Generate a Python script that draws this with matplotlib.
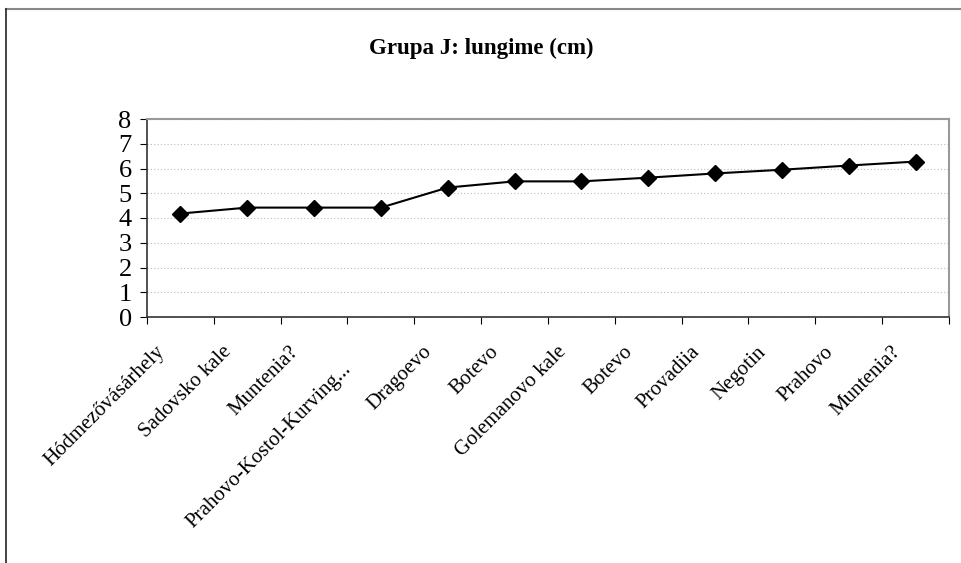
import matplotlib
matplotlib.use('Agg')
import matplotlib.pyplot as plt
from matplotlib.lines import Line2D
from matplotlib.transforms import ScaledTranslation

sites = ['Hódmezővásárhely', 'Sadovsko kale', 'Muntenia?', 'Prahovo-Kostol-Kurving...',
         'Dragoevo', 'Botevo', 'Golemanovo kale', 'Botevo', 'Provadiia', 'Negotin',
         'Prahovo', 'Muntenia?']
lengths = [4.18, 4.42, 4.42, 4.42, 5.23, 5.48, 5.48, 5.63, 5.8, 5.95, 6.12, 6.28]

plt.rcParams['font.family'] = ['Liberation Serif', 'DejaVu Serif']

fig = plt.figure(figsize=(9.62, 5.63), dpi=100)
ax = fig.add_axes([147 / 962, 1 - 317 / 563, 802 / 962, 198 / 563])

x = list(range(len(sites)))
ax.plot(x, lengths, color='black', lw=1.5, marker='D', markersize=8,
        markerfacecolor='black', markeredgecolor='black')

ax.set_xlim(-0.5, len(sites) - 0.5)
ax.set_ylim(0, 8)
ax.set_yticks(range(0, 9))
ax.tick_params(axis='y', labelsize=19, length=5, direction='out', pad=6)

# ticks between categories, labels at category centers
ax.set_xticks([i - 0.5 for i in range(len(sites) + 1)])
ax.set_xticklabels([])
ax.set_xticks(x, minor=True)
ax.set_xticklabels(sites, minor=True, rotation=45, ha='right', rotation_mode='anchor',
                   fontsize=15)
ax.tick_params(axis='x', which='major', length=5, direction='out')
ax.tick_params(axis='x', which='minor', length=0, pad=12)
for i, lbl in enumerate(ax.get_xticklabels(minor=True)):
    dx, dy = -0.25, -0.09
    if sites[i].endswith('...'):
        # the long truncated label sits lower in the original
        dx, dy = -0.39, -0.26
    lbl.set_transform(lbl.get_transform() + ScaledTranslation(dx, dy, fig.dpi_scale_trans))

ax.yaxis.grid(True, linestyle=(0, (1, 2)), color='#bbbbbb', lw=0.8)
ax.set_axisbelow(True)
for s in ['top', 'right']:
    ax.spines[s].set_color('#999999')
    ax.spines[s].set_linewidth(1.5)
for s in ['left', 'bottom']:
    ax.spines[s].set_color('#333333')
    ax.spines[s].set_linewidth(1.2)

fig.text(0.5, 1 - 48 / 563, 'Grupa J: lungime (cm)', ha='center', va='center',
         fontsize=16.5, fontweight='bold')

# outer chart border (top and left visible)
fig.add_artist(Line2D([6 / 962, 1], [1 - 9 / 563, 1 - 9 / 563], transform=fig.transFigure,
                      color='#888888', lw=1.5))
fig.add_artist(Line2D([6 / 962, 6 / 962], [0, 1 - 9 / 563], transform=fig.transFigure,
                      color='#222222', lw=1.2))

fig.savefig('out.png', dpi=100)
